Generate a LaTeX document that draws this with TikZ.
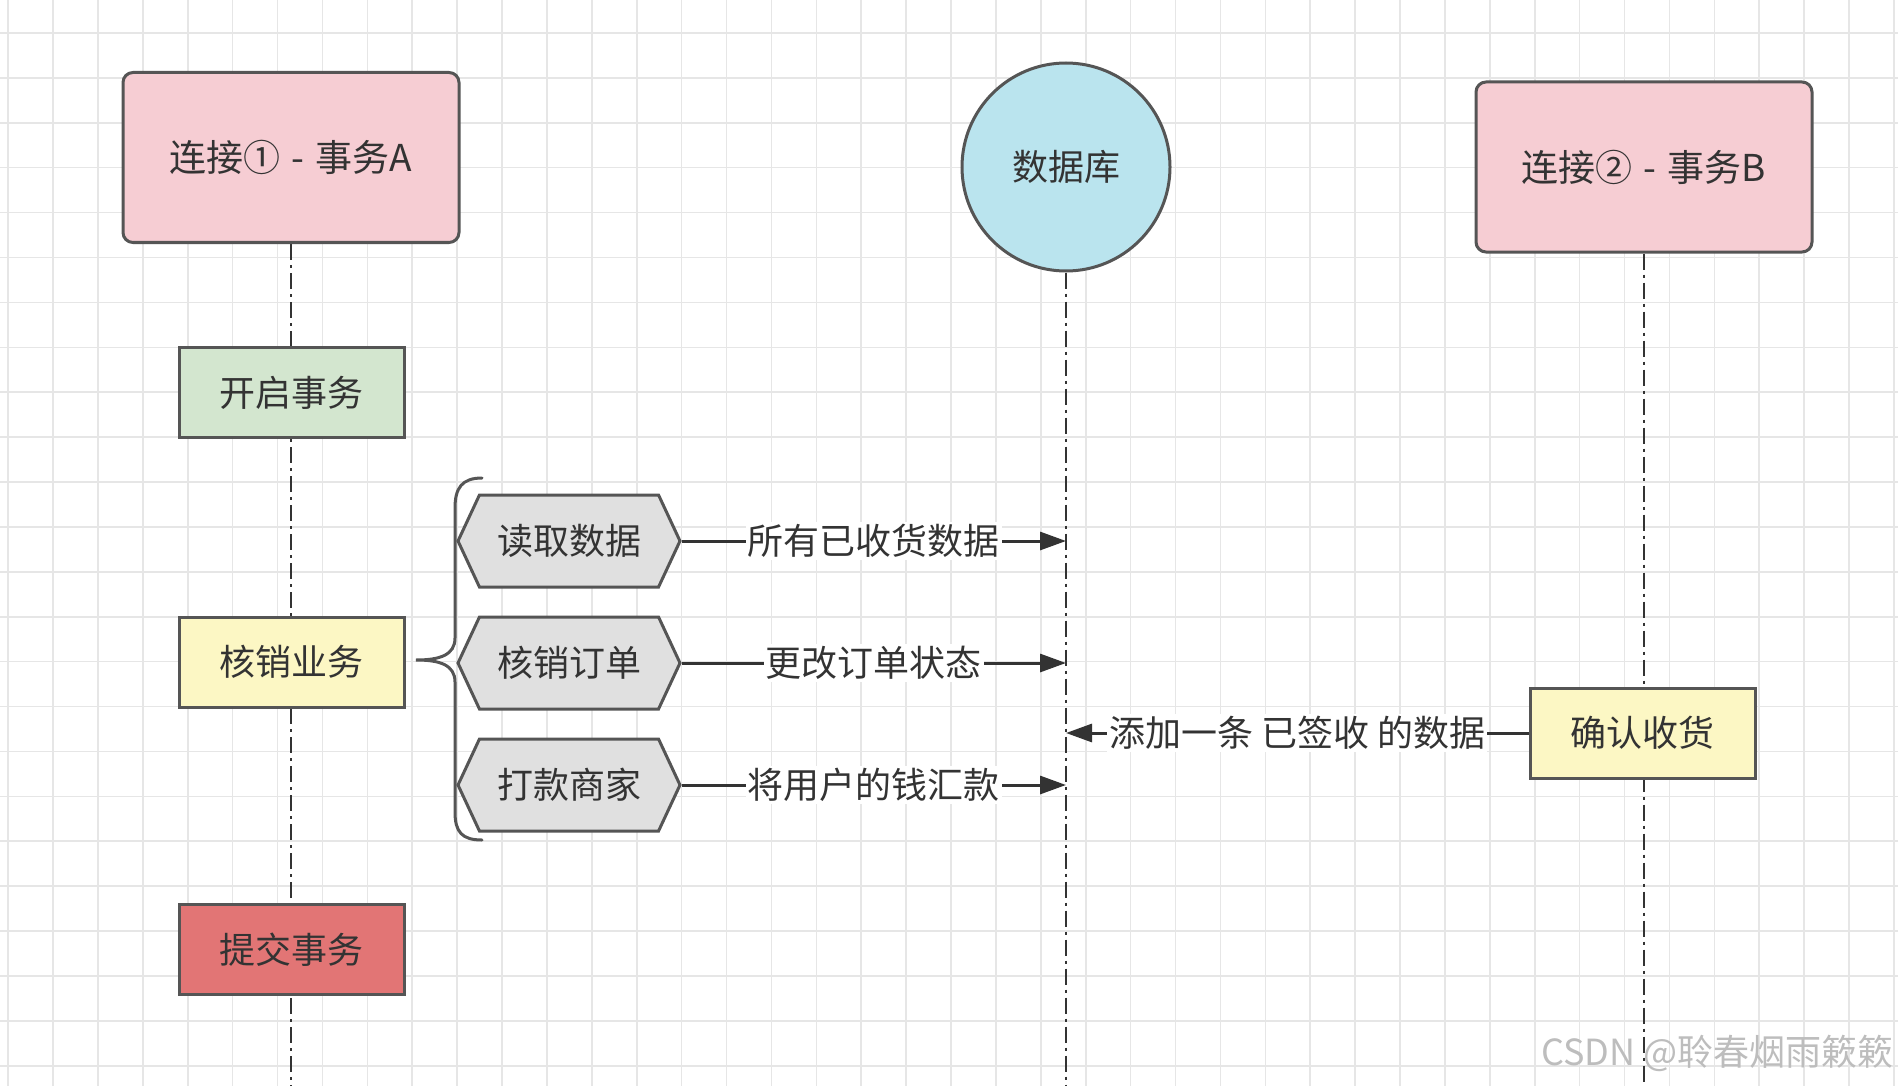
\documentclass[tikz,border=0pt]{standalone}
\usepackage{fontspec}
\setmainfont{Noto Sans CJK SC}
\usetikzlibrary{shapes.symbols,arrows.meta,backgrounds}
\definecolor{txt}{HTML}{333333}
\definecolor{edge}{HTML}{555555}
\definecolor{gridc}{HTML}{E6E6E6}
\definecolor{pinkf}{HTML}{F6CDD3}
\definecolor{greenf}{HTML}{D3E6CF}
\definecolor{yellowf}{HTML}{FCF7C4}
\definecolor{redf}{HTML}{E27575}
\definecolor{cyanf}{HTML}{BAE4EE}
\definecolor{hexf}{HTML}{E0E0E0}
\definecolor{wmc}{HTML}{BDBDBD}
\tikzset{
  gridline/.style={draw=gridc, line width=1.6pt},
  bigbox/.style={draw=edge, line width=3pt, rounded corners=10pt, fill=pinkf,
    minimum width=336pt, minimum height=170pt, font=\fontsize{37}{42}\selectfont},
  smallbox/.style={draw=edge, line width=3pt, minimum width=225pt, minimum height=90pt},
  hexbox/.style={signal, signal to=west and east, signal pointer angle=130,
    draw=edge, line width=3pt, fill=hexf, minimum width=222pt, minimum height=92pt, inner sep=0pt},
  lifeline/.style={draw=txt, line width=2.5pt, dash pattern=on 16pt off 5pt on 3pt off 5pt},
  msg/.style={draw=txt, line width=3pt, -{Triangle[length=26pt,width=18pt]}},
  lbl/.style={fill=white, inner sep=2pt, text=txt},
  bracestyle/.style={draw=edge, line width=3pt, line cap=round}
}
\begin{document}
\begin{tikzpicture}[x=1pt,y=-1pt, font=\fontsize{36}{41}\selectfont, text=txt]
\useasboundingbox (0,0) rectangle (1898,1086);
\coordinate (bottom) at (0,1086);

% header nodes
\node[bigbox] (A) at (291,157.5) {连接①\hspace{11pt}-\hspace{11pt}事务A};
\node[bigbox] (B) at (1644,167) {连接②\hspace{11pt}-\hspace{11pt}事务B};
\node[circle, draw=edge, line width=3pt, fill=cyanf, minimum size=208pt] (db) at (1066,167) {数据库};

% lifeline boxes
\node[smallbox, fill=greenf] (open) at (291.5,392.5) {开启事务};
\node[smallbox, fill=yellowf] (biz) at (291.5,662) {核销业务};
\node[smallbox, fill=redf] (commit) at (291.5,949.5) {提交事务};
\node[smallbox, fill=yellowf] (confirm) at (1642.5,733) {确认收货};

% hexagons
\node[hexbox] (h1) at (569,541) {读取数据};
\node[hexbox] (h2) at (569,663) {核销订单};
\node[hexbox] (h3) at (569,785) {打款商家};

% brace
\draw[bracestyle] (482,478) .. controls (462,478) and (455,488) .. (455,508)
  -- (455,638) .. controls (455,655) and (440,660) .. (416,660)
  .. controls (440,660) and (455,665) .. (455,682)
  -- (455,812) .. controls (455,832) and (462,840) .. (482,840);

% messages
\draw[msg] (h1.east) -- (h1.east -| db.south) node[midway, lbl] {所有已收货数据};
\draw[msg] (h2.east) -- (h2.east -| db.south) node[midway, lbl] {更改订单状态};
\draw[msg] (h3.east) -- (h3.east -| db.south) node[midway, lbl] {将用户的钱汇款};
\draw[msg] (confirm.west) -- (confirm.west -| db.south) node[midway, lbl] {添加一条 已签收 的数据};

% watermark
\node[anchor=east, text=wmc, font=\fontsize{36}{40}\selectfont, inner sep=0pt] (wm) at (1894,1053) {CSDN @聆春烟雨簌簌};

\begin{scope}[on background layer]
  \fill[white] (0,0) rectangle (1898,1086);
  \foreach \i in {-1,...,41} {\draw[gridline] ({53+44.9*\i},0) -- ({53+44.9*\i},1086);}
  \foreach \j in {0,...,23} {\draw[gridline] (0,{33+44.9*\j}) -- (1898,{33+44.9*\j});}
  \draw[lifeline] (A.south) -- (A.south |- bottom);
  \draw[lifeline] (db.south) -- (db.south |- bottom);
  \draw[lifeline] (B.south) -- (B.south |- bottom);
\end{scope}
\end{tikzpicture}
\end{document}
